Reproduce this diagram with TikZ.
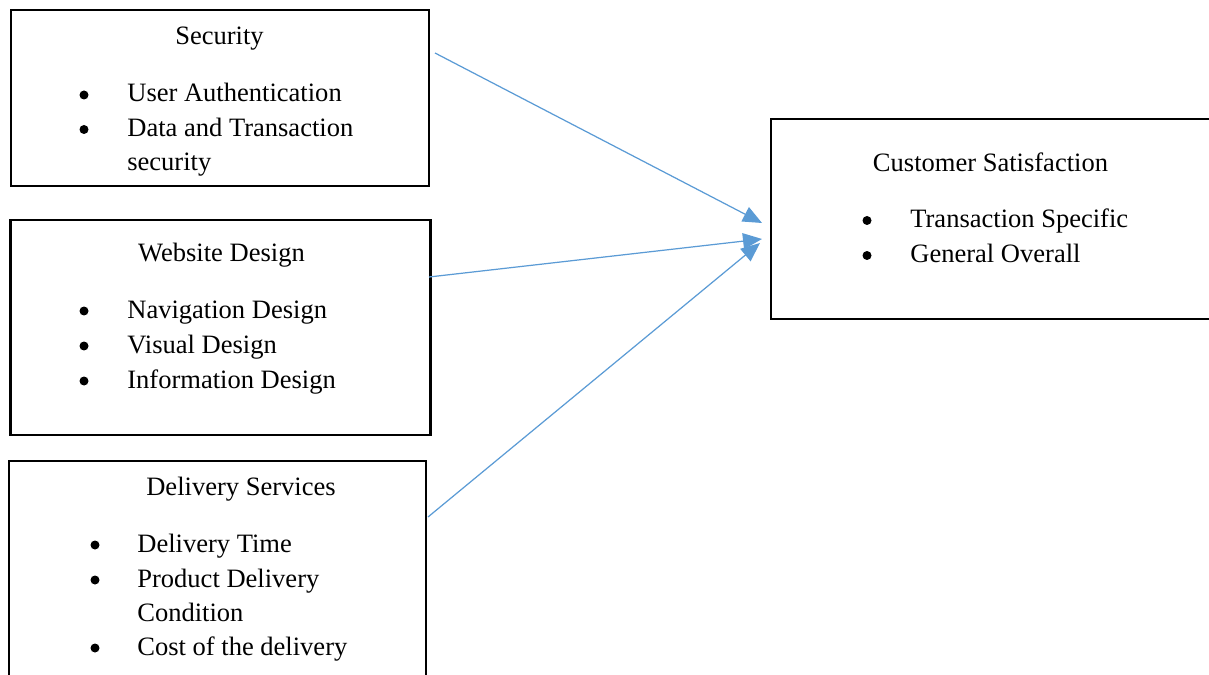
\documentclass[tikz,border=0pt]{standalone}
\usepackage{fontspec}
\setmainfont{Liberation Serif}
\usetikzlibrary{arrows.meta}
\definecolor{arrow_blue}{RGB}{91, 155, 213}
\newcommand{\boxfont}{\fontsize{15.1}{18}\selectfont}
\tikzstyle{box}=[rectangle,draw=black,line width=1.5pt,inner sep=0pt]
\tikzstyle{title}=[inner sep=0pt,anchor=base,font=\boxfont]
\tikzstyle{item}=[inner sep=0pt,anchor=base west,font=\boxfont]
\tikzstyle{dot}=[circle,fill=black,inner sep=0pt,minimum size=0.18cm]
\tikzstyle{arr}=[draw=arrow_blue,line width=0.7pt,
  -{Triangle[length=0.38cm,width=0.32cm]}]
\tikzstyle{none}=[]

\begin{document}
\begin{tikzpicture}[x=0.02cm, y=-0.02cm]
            \useasboundingbox (0, 0) rectangle (1209, 675);
            % boxes
            \node [style=box, minimum width=8.36cm, minimum height=3.52cm] (0) at (220, 98) {};
            \node [style=box, minimum width=8.4cm, minimum height=4.3cm] (1) at (220.5, 327.5) {};
            \node [style=box, minimum width=8.34cm, minimum height=4.78cm] (2) at (217.5, 580.5) {};
            \node [style=box, minimum width=9.38cm, minimum height=4cm] (3) at (1005.5, 219) {};
            % security
            \node [style=title] (4) at (219.5, 45) {Security};
            \node [style=dot] (5) at (84, 95) {};
            \node [style=item] (6) at (127, 102) {User Authentication};
            \node [style=dot] (7) at (84, 129.5) {};
            \node [style=item] (8) at (127, 136.5) {Data and Transaction};
            \node [style=item] (9) at (127, 171) {security};
            % website design
            \node [style=title] (10) at (221.5, 262) {Website Design};
            \node [style=dot] (11) at (84, 311) {};
            \node [style=item] (12) at (127, 318) {Navigation Design};
            \node [style=dot] (13) at (84, 346) {};
            \node [style=item] (14) at (127, 353) {Visual Design};
            \node [style=dot] (15) at (84, 381) {};
            \node [style=item] (16) at (127, 388) {Information Design};
            % delivery services
            \node [style=title] (17) at (241, 495) {Delivery Services};
            \node [style=dot] (18) at (95, 545) {};
            \node [style=item] (19) at (137, 552) {Delivery Time};
            \node [style=dot] (20) at (95, 580) {};
            \node [style=item] (21) at (137, 587) {Product Delivery};
            \node [style=item] (22) at (137, 621) {Condition};
            \node [style=dot] (23) at (95, 648) {};
            \node [style=item] (24) at (137, 655) {Cost of the delivery};
            % customer satisfaction
            \node [style=title] (25) at (990.5, 172) {Customer Satisfaction};
            \node [style=dot] (26) at (867, 220.5) {};
            \node [style=item] (27) at (910, 227.5) {Transaction Specific};
            \node [style=dot] (28) at (867, 255.5) {};
            \node [style=item] (29) at (910, 262.5) {General Overall};
            % arrow ends
            \node [style=none] (30) at (435, 53) {};
            \node [style=none] (31) at (762, 223) {};
            \node [style=none] (32) at (429, 277) {};
            \node [style=none] (33) at (762, 239) {};
            \node [style=none] (34) at (428, 517) {};
            \node [style=none] (35) at (760, 243) {};
            \draw [style=arr] (30.center) to (31.center);
            \draw [style=arr] (32.center) to (33.center);
            \draw [style=arr] (34.center) to (35.center);
    \end{tikzpicture}
\end{document}
